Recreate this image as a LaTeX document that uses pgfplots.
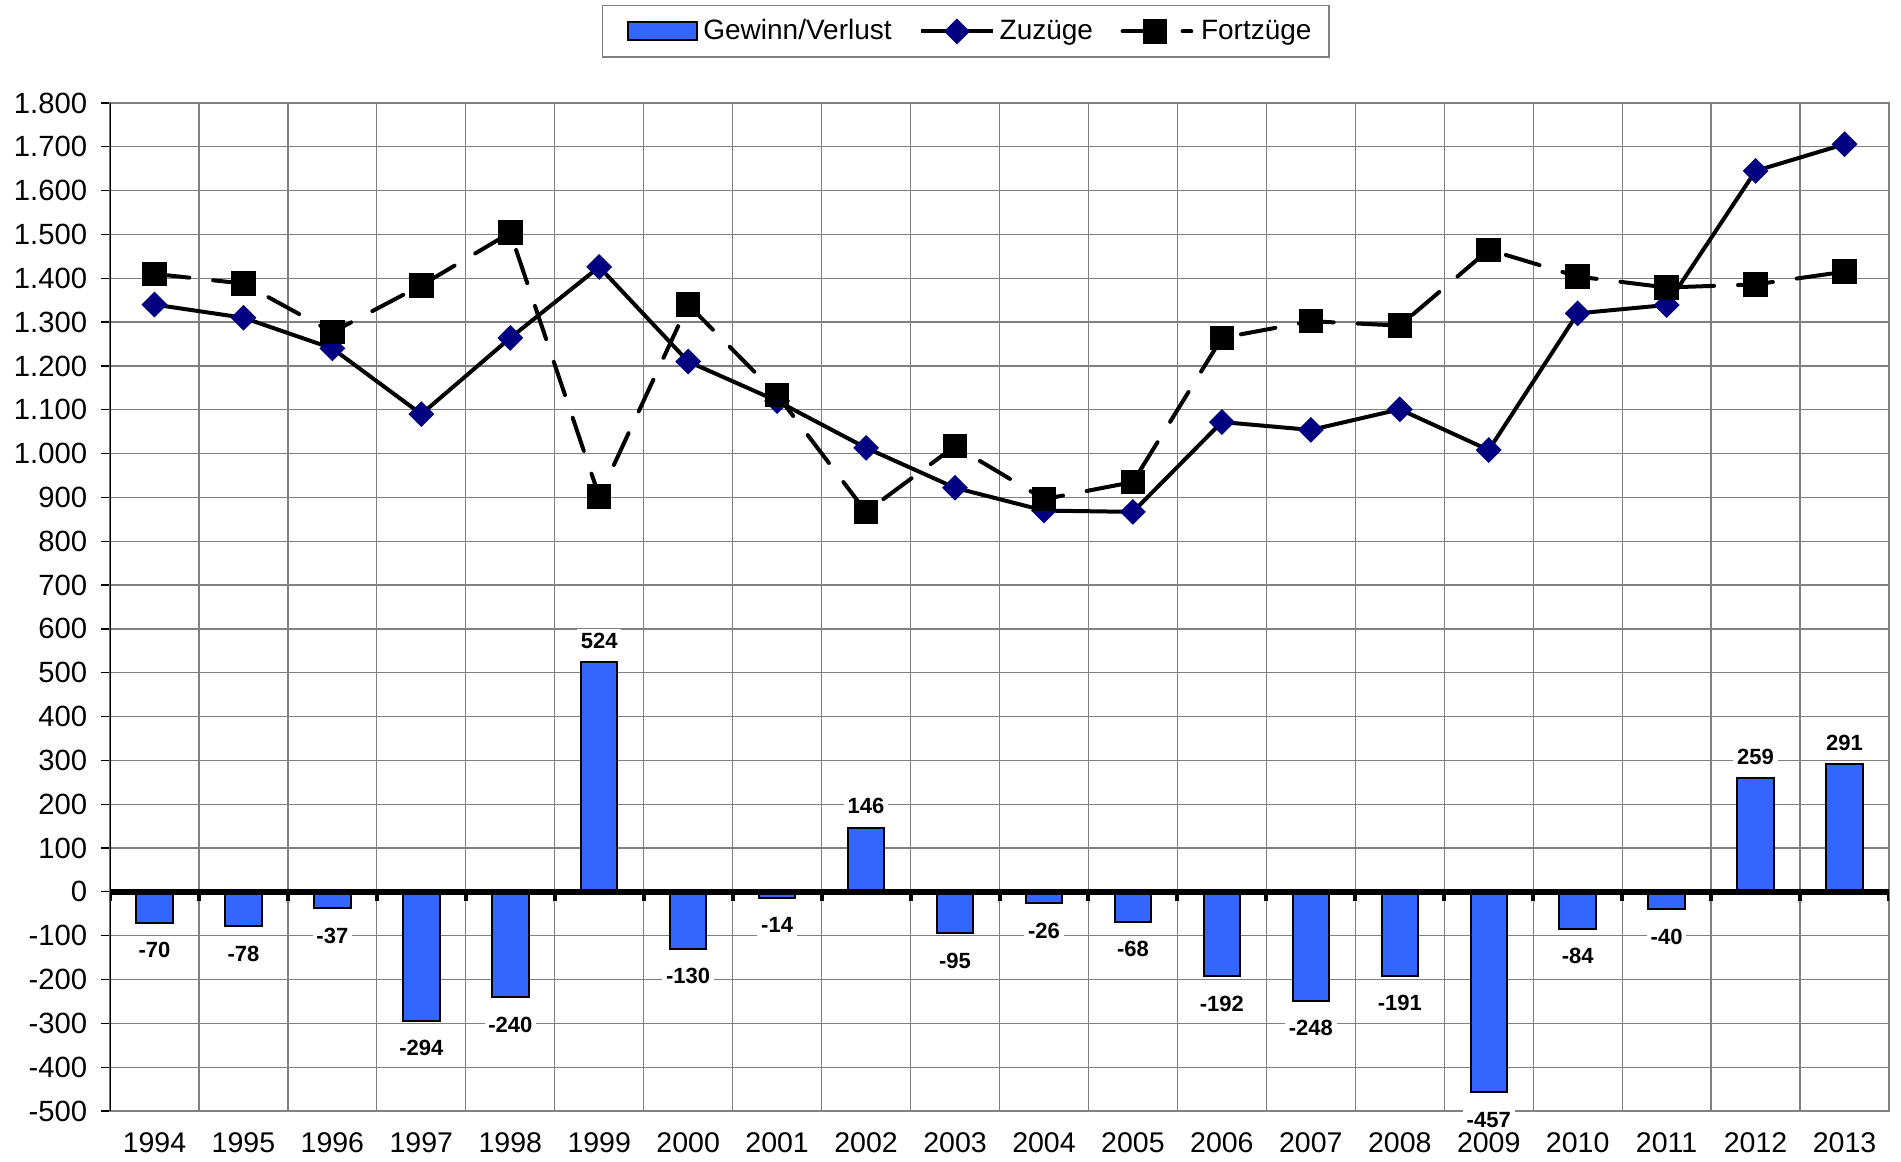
\documentclass[border=0pt]{standalone}
\usepackage{fontspec}
\setmainfont{Liberation Sans}
\usepackage{pgfplots}
\pgfplotsset{compat=1.18}
\usepackage{pgfplotstable}
\definecolor{barblue}{RGB}{51,102,255}
\definecolor{navyblue}{RGB}{0,0,128}
\definecolor{gridgray}{RGB}{128,128,128}

\pgfplotsset{
  zulegend/.style={legend image code/.code={\draw[mark repeat=2,mark phase=2,##1] plot coordinates {(0pt,0pt) (14.3pt,0pt) (28.6pt,0pt)};}},
  fortlegend/.style={legend image code/.code={\draw[mark repeat=2,mark phase=2,##1, dash pattern=on 12pt off 12pt on 3.5pt off 10pt] plot coordinates {(0pt,0pt) (13pt,0pt) (28.6pt,0pt)};}},
  barlegend/.style={legend image code/.code={\path (-5pt,0pt); \draw[fill=barblue, draw=black, line width=0.8pt] (0pt,-3.3pt) rectangle (27.6pt,3.7pt);}},
}

\pgfplotstableread{
x saldo zu fort
0 -70 1340 1410
1 -78 1310 1388
2 -37 1240 1277
3 -294 1090 1384
4 -240 1264 1504
5 524 1426 902
6 -130 1210 1340
7 -14 1120 1134
8 146 1013 867
9 -95 922 1017
10 -26 870 896
11 -68 867 935
12 -192 1072 1264
13 -248 1054 1302
14 -191 1101 1292
15 -457 1008 1465
16 -84 1320 1404
17 -40 1339 1379
18 259 1645 1386
19 291 1706 1415
}\datatable

\begin{document}
\begin{tikzpicture}
\begin{axis}[
  scale only axis, width=711.6pt, height=403.2pt,
  xmin=-0.5, xmax=19.5, ymin=-500, ymax=1800,
  xtick={0,...,19},
  xticklabels={1994,1995,1996,1997,1998,1999,2000,2001,2002,2003,2004,2005,2006,2007,2008,2009,2010,2011,2012,2013},
  minor xtick={0.5,1.5,...,18.5},
  xtick style={draw=none},
  minor x tick style={draw=none},
  xminorgrids=true, ymajorgrids=true, xmajorgrids=false,
  ytick={-500,-400,...,1800},
  ytick pos=left, ytick align=outside,
  major tick length=3.6pt,
  y tick style={black, line width=0.5pt},
  grid style={gridgray, line width=0.5pt},
  minor grid style={gridgray, line width=0.5pt},
  major grid style={gridgray, line width=0.5pt},
  axis line style={gridgray, line width=0.5pt},
  tick label style={font=\fontsize{11.4}{13}\selectfont},
  yticklabel style={font=\fontsize{11.7}{13}\selectfont, xshift=-2pt},
  xticklabel style={yshift=-5pt},
  /pgf/number format/assume math mode=true,
  /pgf/number format/1000 sep={.},
  legend columns=3,
  legend style={at={(0.481,1)}, anchor=south, yshift=18pt, draw=gridgray, line width=0.6pt,
    font=\fontsize{11.2}{13}\selectfont, inner xsep=5pt, inner ysep=3.5pt,
    /tikz/every even column/.append style={column sep=9pt}},
  legend cell align=left,
]
\addplot[ybar, bar width=0.41, bar shift=0pt, fill=barblue, draw=black, line width=0.8pt,
  visualization depends on={y \as \rawy},
  nodes near coords, nodes near coords align=vertical,
  every node near coord/.append style={font=\bfseries\fontsize{8.8}{10}\selectfont, fill=white, draw=none, text=black, inner sep=1.5pt, outer sep=4pt,
    yshift={ifthenelse(\rawy<0,-2.4pt,0pt)}},
  barlegend
] table[x=x,y=saldo]{\datatable};
\addlegendentry{Gewinn/Verlust}
\addplot[black, line width=1.6pt, mark=square*, mark size=2.85pt,
  mark options={rotate=45, fill=navyblue, draw=navyblue, solid},
  zulegend
] table[x=x,y=zu]{\datatable};
\addlegendentry{Zuzüge}
\addplot[black, line width=1.6pt, line cap=round, dash pattern=on 14pt off 9.6pt, mark=square*, mark size=4.1pt,
  mark options={fill=black, draw=black, solid},
  fortlegend
] table[x=x,y=fort]{\datatable};
\addlegendentry{Fortzüge}
\draw[black, line width=0.6pt] (rel axis cs:0,0) -- (rel axis cs:0,1);
\draw[black, line width=2.4pt] (axis cs:-0.5,0) -- (axis cs:19.5,0);
\pgfplotsinvokeforeach{-0.5,0.5,...,19.5}{
  \draw[black, line width=1.6pt] (axis cs:#1,0) -- ++(0pt,-3.5pt);
}
\end{axis}
\pgfresetboundingbox
\useasboundingbox (-44pt,-20.4pt) rectangle (716.4pt,444.4pt);
\end{tikzpicture}
\end{document}
